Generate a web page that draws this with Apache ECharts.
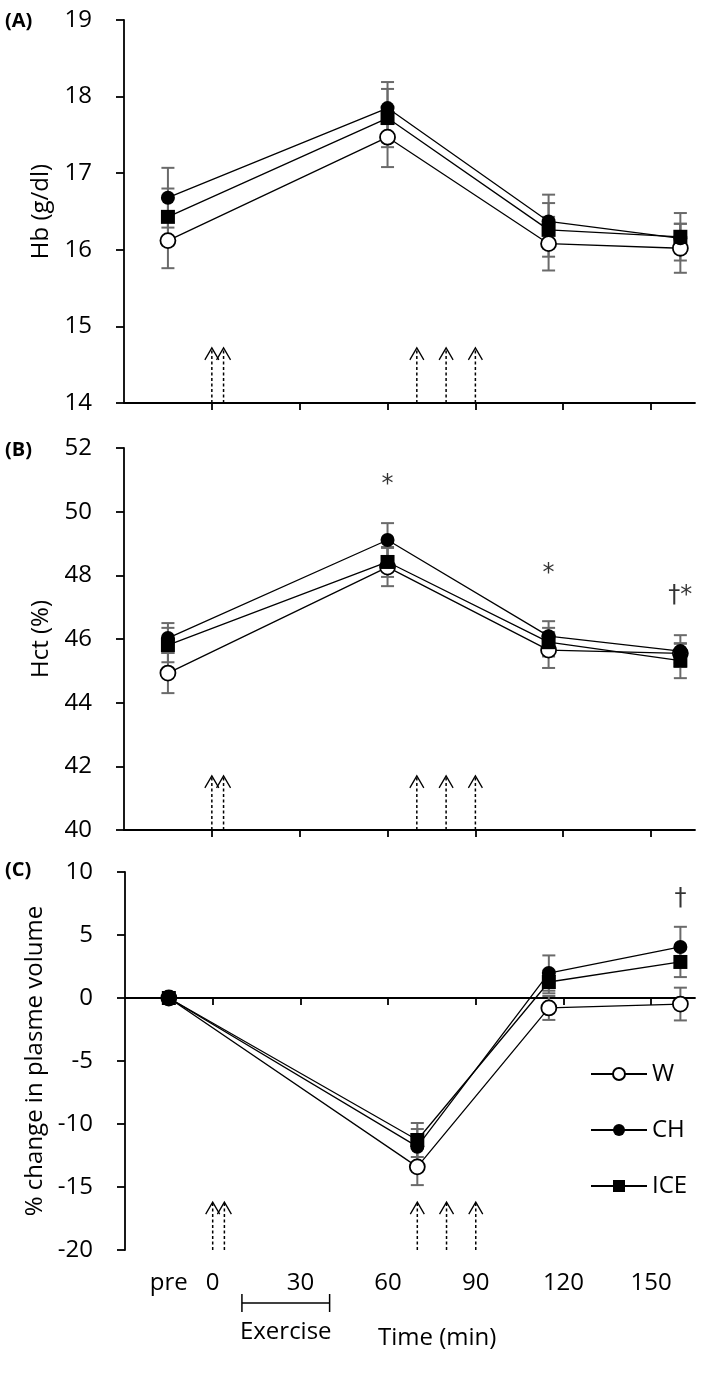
<!DOCTYPE html>
<html><head><meta charset="utf-8">
<script src="https://cdn.jsdelivr.net/npm/echarts@6/dist/echarts.min.js"></script>
<style>html,body{margin:0;padding:0;background:#fff}#c{width:709px;height:1389px}</style>
</head><body><div id="c"></div>
<script>
// ---------- data ----------
const groups = ['W', 'CH', 'ICE'];
const timesAB = [-15, 60, 115, 160];
const timesC = [-15, 70, 115, 160];

const hbW = [16.12, 17.47, 16.08, 16.02];
const hbCH = [16.68, 17.85, 16.37, 16.15];
const hbICE = [16.43, 17.72, 16.26, 16.17];
const hbWErr = [0.36, 0.39, 0.35, 0.32];
const hbCHErr = [0.39, 0.34, 0.35, 0.19];
const hbICEErr = [0.37, 0.38, 0.35, 0.31];

const hctW = [44.93, 48.26, 45.65, 45.55];
const hctCH = [46.03, 49.11, 46.09, 45.62];
const hctICE = [45.81, 48.42, 45.90, 45.32];
const hctWErr = [0.63, 0.60, 0.56, 0.30];
const hctCHErr = [0.47, 0.53, 0.47, 0.50];
const hctICEErr = [0.54, 0.47, 0.45, 0.55];

const pvW = [0, -13.4, -0.79, -0.48];
const pvCH = [0, -11.8, 1.98, 4.05];
const pvICE = [0, -11.27, 1.27, 2.86];
const pvWErr = [0, 1.45, 0.95, 1.3];
const pvCHErr = [0, 1.4, 1.4, 1.6];
const pvICEErr = [0, 1.35, 0.9, 1.2];

const xTickValues = [0, 30, 60, 90, 120, 150];
const xLabelValues = [-15, 0, 30, 60, 90, 120, 150];
const preLabel = 'pre';
const arrowTimes = [0, 4, 70, 80, 90];
const arrowTops = [14.72, 41.7, -16.2];
const exercisePeriod = [10, 40];
const sigB = [[60, 51.0, '*'], [115, 48.2, '*'], [160, 47.5, '†*']];
const sigC = [[160, 8.3, '†']];
const yNames = ['Hb (g/dl)', 'Hct (%)', '% change in plasme volume'];
const panelTags = ['(A)', '(B)', '(C)'];

// ---------- chart ----------
const FONT = 'Open Sans';
const FS = 24;
const chart = echarts.init(document.getElementById('c'), null, {renderer: 'canvas'});

const grids = [
  {left: 124, right: 14, top: 20, height: 383},
  {left: 124, right: 14, top: 448, height: 382},
  {left: 125, right: 14, top: 872, height: 378}
];

const axisLineStyle = {color: '#000', width: 1.8};
function xAxisBase(gi) {
  return {
    type: 'value', gridIndex: gi, min: -30, max: 165,
    splitLine: {show: false},
    axisLine: {show: true, onZero: gi === 2, lineStyle: axisLineStyle},
    axisTick: {show: true, length: 7, customValues: xTickValues, lineStyle: axisLineStyle},
    axisLabel: {show: false}
  };
}
const xAxes = [xAxisBase(0), xAxisBase(1), xAxisBase(2), {
  type: 'value', gridIndex: 2, min: -30, max: 165, position: 'bottom',
  splitLine: {show: false},
  axisLine: {show: false, onZero: false},
  axisTick: {show: false},
  axisLabel: {show: true, customValues: xLabelValues, margin: 21,
    fontFamily: FONT, fontSize: FS, color: '#000',
    formatter: v => v === -15 ? preLabel : String(v)}
}];

const yRanges = [[14, 19, 1], [40, 52, 2], [-20, 10, 5]];
const nameGaps = [66, 66, 76];
const yAxes = yRanges.map((r, i) => ({
  type: 'value', gridIndex: i, min: r[0], max: r[1], interval: r[2],
  name: yNames[i], nameLocation: 'middle', nameGap: nameGaps[i],
  nameTextStyle: {fontFamily: FONT, fontSize: FS, color: '#000'},
  splitLine: {show: false},
  axisLine: {show: true, onZero: false, lineStyle: axisLineStyle},
  axisTick: {show: true, length: 8, lineStyle: axisLineStyle},
  axisLabel: {margin: 32, fontFamily: FONT, fontSize: FS, color: '#000'}
}));

const symStyles = {
  W: {symbol: 'circle', symbolSize: 15, itemStyle: {color: '#fff', borderColor: '#000', borderWidth: 1.8}},
  CH: {symbol: 'circle', symbolSize: 14, itemStyle: {color: '#000', borderColor: '#000', borderWidth: 0}},
  ICE: {symbol: 'rect', symbolSize: 14, itemStyle: {color: '#000', borderColor: '#000', borderWidth: 0}}
};

const panelData = [
  {xs: timesAB, vals: {W: hbW, CH: hbCH, ICE: hbICE}, errs: {W: hbWErr, CH: hbCHErr, ICE: hbICEErr}},
  {xs: timesAB, vals: {W: hctW, CH: hctCH, ICE: hctICE}, errs: {W: hctWErr, CH: hctCHErr, ICE: hctICEErr}},
  {xs: timesC, vals: {W: pvW, CH: pvCH, ICE: pvICE}, errs: {W: pvWErr, CH: pvCHErr, ICE: pvICEErr}}
];
const xAxisForPanel = [0, 1, 2];

function errRender(params, api) {
  const x = api.value(0), lo = api.value(1), hi = api.value(2);
  if (hi - lo <= 0) return null;
  const p1 = api.coord([x, hi]), p2 = api.coord([x, lo]);
  const w = 6.5;
  const st = {stroke: '#6a6a6a', lineWidth: 2};
  return {type: 'group', children: [
    {type: 'line', shape: {x1: p1[0], y1: p1[1], x2: p2[0], y2: p2[1]}, style: st},
    {type: 'line', shape: {x1: p1[0] - w, y1: p1[1], x2: p1[0] + w, y2: p1[1]}, style: st},
    {type: 'line', shape: {x1: p2[0] - w, y1: p2[1], x2: p2[0] + w, y2: p2[1]}, style: st}
  ]};
}

function arrowRender(params, api) {
  const t = api.value(0), base = api.value(1), top = api.value(2);
  const p1 = api.coord([t, base]), p2 = api.coord([t, top]);
  return {type: 'group', children: [
    {type: 'line', shape: {x1: p1[0], y1: p1[1], x2: p2[0], y2: p2[1] + 1}, style: {stroke: '#000', lineWidth: 1.5, lineDash: [3, 2.5]}},
    {type: 'polyline', shape: {points: [[p2[0] - 7, p2[1] + 12], [p2[0], p2[1]], [p2[0] + 7, p2[1] + 12]]}, style: {stroke: '#000', lineWidth: 1.3, fill: null}}
  ]};
}

function exerciseRender(params, api) {
  const a = api.coord([api.value(0), -20]), b = api.coord([api.value(1), -20]);
  const y = a[1] + 53;
  const st = {stroke: '#000', lineWidth: 1.5};
  return {type: 'group', children: [
    {type: 'line', shape: {x1: a[0], y1: y, x2: b[0], y2: y}, style: st},
    {type: 'line', shape: {x1: a[0], y1: y - 9, x2: a[0], y2: y + 9}, style: st},
    {type: 'line', shape: {x1: b[0], y1: y - 9, x2: b[0], y2: y + 9}, style: st},
    {type: 'text', style: {text: 'Exercise', x: (a[0] + b[0]) / 2, y: y + 29, align: 'center', verticalAlign: 'middle', font: FS + 'px "' + FONT + '"', fill: '#000'}}
  ]};
}

const series = [];
panelData.forEach((pd, pi) => {
  const xi = xAxisForPanel[pi];
  series.push({
    type: 'custom', xAxisIndex: xi, yAxisIndex: pi, renderItem: arrowRender, clip: false, silent: true, z: 1,
    encode: {x: 0, y: [1, 2]},
    data: arrowTimes.map(t => [t, yRanges[pi][0], arrowTops[pi]])
  });
  const errData = [];
  groups.forEach(g => pd.xs.forEach((x, k) => errData.push([x, pd.vals[g][k] - pd.errs[g][k], pd.vals[g][k] + pd.errs[g][k]])));
  series.push({
    type: 'custom', xAxisIndex: xi, yAxisIndex: pi, renderItem: errRender, clip: false, silent: true, z: 2,
    encode: {x: 0, y: [1, 2]}, data: errData
  });
  groups.forEach((g, gi) => {
    series.push(Object.assign({
      type: 'line', name: g, xAxisIndex: xi, yAxisIndex: pi, z: 3 + gi,
      data: pd.xs.map((x, k) => [x, pd.vals[g][k]]),
      lineStyle: {color: '#000', width: 1.3},
      showAllSymbol: true, animation: false, emphasis: {disabled: true}, silent: true
    }, symStyles[g]));
  });
});

[[1, sigB], [2, sigC]].forEach(([pi, arr]) => {
  series.push({
    type: 'scatter', xAxisIndex: xAxisForPanel[pi], yAxisIndex: pi, symbolSize: 1,
    itemStyle: {color: 'rgba(0,0,0,0)'}, silent: true, z: 10,
    label: {show: true, position: 'inside', offset: [0, 5], formatter: p => p.value[2],
      fontFamily: 'DejaVu Sans', fontSize: 24, color: '#000'},
    data: arr
  });
});

series.push({
  type: 'custom', xAxisIndex: 2, yAxisIndex: 2, renderItem: exerciseRender, clip: false, silent: true,
  encode: {x: [0, 1]}, data: [exercisePeriod]
});

const graphic = panelTags.map((t, i) => ({
  type: 'text', left: 5, top: [11, 440, 860][i],
  style: {text: t, font: 'bold 20px "' + FONT + '"', fill: '#000'}
}));
graphic.push({type: 'text', left: 378, top: 1326, style: {text: 'Time (min)', font: FS + 'px "' + FONT + '"', fill: '#000'}});

chart.setOption({
  backgroundColor: '#fff',
  animation: false,
  grid: grids,
  xAxis: xAxes,
  yAxis: yAxes,
  legend: {
    data: groups, orient: 'vertical', left: 590, top: 1062, padding: 0,
    itemWidth: 56, itemHeight: 15, itemGap: 32, selectedMode: false,
    textStyle: {fontFamily: FONT, fontSize: FS, color: '#000'}
  },
  series: series,
  graphic: graphic
});
</script></body></html>
